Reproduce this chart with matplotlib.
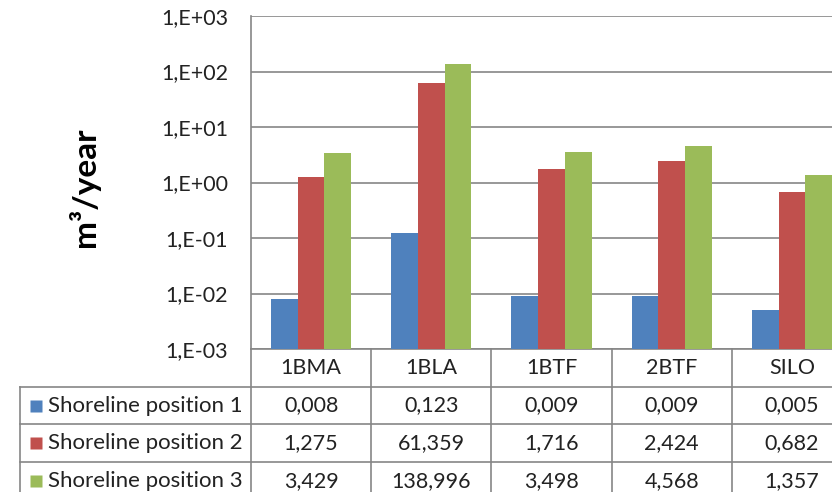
import matplotlib.pyplot as plt
from matplotlib.ticker import FixedLocator, FuncFormatter, NullLocator
import numpy as np

plt.rcParams['font.family'] = ['Lato', 'DejaVu Sans']

# data
categories = ['1BMA', '1BLA', '1BTF', '2BTF', 'SILO']
series_names = ['Shoreline position 1', 'Shoreline position 2', 'Shoreline position 3']
pos1 = [0.008, 0.123, 0.009, 0.009, 0.005]
pos2 = [1.275, 61.359, 1.716, 2.424, 0.682]
pos3 = [3.429, 138.996, 3.498, 4.568, 1.357]
series = [pos1, pos2, pos3]
colors = ['#4F81BD', '#C0504D', '#9BBB59']
grid_c = '#868686'
txt_c = '#222222'
fs = 15.5

W, H = 832, 492
fig = plt.figure(figsize=(W / 100, H / 100), dpi=100)

# plot area (runs off the right edge like the original crop)
left_px, top_px, bottom_px = 251, 16, 349
col_px = 120.2
ax = fig.add_axes([left_px / W, 1 - bottom_px / H, 5 * col_px / W, (bottom_px - top_px) / H])
ax.set_yscale('log')
ax.set_ylim(1e-3, 1e3)
ax.set_xlim(-0.5, 4.5)

x = np.arange(len(categories))
bw = 0.222
ybase = 1e-3
for i, (vals, c) in enumerate(zip(series, colors)):
    v = np.array(vals)
    ax.bar(x + (i - 1) * bw, v - ybase, bottom=ybase, width=bw, color=c,
           edgecolor='none', zorder=3)

ax.yaxis.set_major_locator(FixedLocator([10.0 ** e for e in range(-3, 4)]))
ax.yaxis.set_minor_locator(NullLocator())
ax.yaxis.set_major_formatter(FuncFormatter(lambda v, p: '1,E%+03d' % int(round(np.log10(v)))))
ax.tick_params(axis='y', length=0, pad=16.5, labelsize=fs, labelcolor=txt_c)
ax.set_xticks([])
ax.grid(axis='y', color=grid_c, lw=1.2, zorder=0)
for s in ['top', 'right']:
    ax.spines[s].set_visible(False)
for s in ['left', 'bottom']:
    ax.spines[s].set_color(grid_c)
    ax.spines[s].set_linewidth(1.2)

fig.text(84 / W, 1 - 187 / H, 'm³/year', rotation=90, ha='center', va='center',
         fontsize=24, fontweight='bold', color='black')

# data table under the plot
tab_left = 20
row_h = 37.7
xmin = -0.5 - (left_px - tab_left) / col_px
tab_h = H - bottom_px
ax_t = fig.add_axes([tab_left / W, 0, (left_px + 5 * col_px - tab_left) / W, tab_h / H])
ax_t.set_xlim(xmin, 4.5)
ax_t.set_ylim(tab_h / row_h, 0)
ax_t.axis('off')

nrows = len(series) + 1
for k in range(len(categories) + 1):
    ax_t.plot([k - 0.5, k - 0.5], [0, nrows], color=grid_c, lw=1.2, clip_on=False)
ax_t.plot([xmin, xmin], [1, nrows], color=grid_c, lw=1.2, clip_on=False)
for r in range(1, nrows):
    ax_t.plot([xmin, 4.5], [r, r], color=grid_c, lw=1.2, clip_on=False)

for j, cat in enumerate(categories):
    ax_t.text(j, 0.5, cat, ha='center', va='center', fontsize=fs, color=txt_c)

for i, (name, vals, c) in enumerate(zip(series_names, series, colors)):
    r = i + 1.5
    ax_t.plot([xmin + 16 / col_px], [r], marker='s', ms=8.5, color=c, mec='none')
    ax_t.text(xmin + 28 / col_px, r, name, ha='left', va='center', fontsize=16, color=txt_c)
    for j, v in enumerate(vals):
        ax_t.text(j, r, ('%.3f' % v).replace('.', ','), ha='center', va='center',
                  fontsize=fs, color=txt_c)

fig.savefig('out.png', dpi=100)
